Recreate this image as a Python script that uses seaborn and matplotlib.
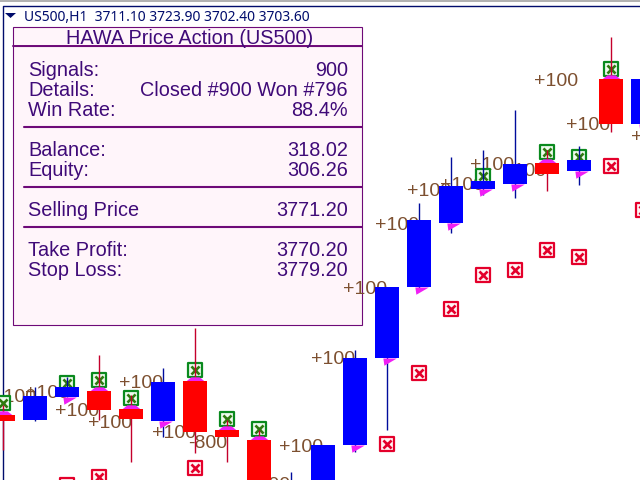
import numpy as np
import pandas as pd
import matplotlib
matplotlib.use('Agg')
import matplotlib.pyplot as plt
from matplotlib.path import Path
from matplotlib.patches import Rectangle, Polygon
import seaborn as sns

# candles, price units
bar_no = list(range(21))
is_red = [1, 0, 0, 1, 1, 0, 1, 1, 1, 0, 0, 0, 0, 0, 0, 0, 0, 1, 0, 1, 0]
body_high = [3572.5, 3582, 3586.5, 3584.5, 3575.5, 3589, 3589.5, 3565, 3560, 3539, 3557.5,
             3601, 3636.5, 3670, 3687, 3689.5, 3698, 3698.5, 3700, 3740.5, 3740.5]
body_low = [3569.5, 3570, 3581.5, 3575, 3570.5, 3569.5, 3564, 3561.5, 3520, 3520, 3515,
            3557.5, 3601, 3636.5, 3668.5, 3685.5, 3688, 3693, 3694.5, 3718, 3718]
wick_high = [3577.5, 3586.5, 3591.5, 3602.5, 3582.5, 3596, 3616, 3570, 3565, 3544, 3557.5,
             3605, 3636.5, 3678.5, 3701.5, 3705, 3725, 3705, 3707, 3761.5, 3742.5]
wick_low = [3555, 3569.5, 3581.5, 3570, 3549, 3561.5, 3553.5, 3549, 3517.5, 3517.5, 3512.5,
            3554, 3565, 3635, 3663.5, 3682.5, 3681, 3684.5, 3687.5, 3714, 3715]

# signal boxes
win_bars = [0, 2, 3, 4, 6, 7, 8, 15, 17, 18, 19]
win_price = [3578.5, 3588.5, 3590, 3581, 3595, 3570.5, 3565.5, 3692, 3704, 3701.5, 3745.5]
stop_bars = [2, 3, 6, 12, 13, 14, 15, 16, 17, 18, 19, 20]
stop_price = [3537.5, 3541.5, 3546, 3558, 3593.5, 3625.5, 3642.5, 3645, 3655, 3651.5, 3697, 3675]

# profit labels
label_text = ['+100'] * 17 + ['-800', '+100']
label_bar = [16.59, 17.59, 19.62, 14.59, 15.59, 13.66, 12.62, 11.62, 10.62, 9.62, 8.62,
             4.66, 3.62, 2.66, 1.62, 0.69, -0.34, 5.78, 7.59]
label_price = [3739, 3717, 3711.5, 3697, 3694, 3687.5, 3684.5, 3667.5, 3635.5, 3600, 3556.5,
               3563.5, 3588, 3568, 3574, 3583, 3581.5, 3558.5, 3537]

# panel text
header = 'US500,H1  3711.10 3723.90 3702.40 3703.60'
panel_title = 'HAWA Price Action (US500)'
panel_names = ['Signals:', 'Details:', 'Win Rate:', 'Balance:', 'Equity:', 'Selling Price', 'Take Profit:', 'Stop Loss:']
panel_values = ['900', 'Closed #900 Won #796', '88.4%', '318.02', '306.26', '3771.20', '3770.20', '3779.20']
panel_rows = [70.5, 90.5, 110.5, 150.5, 170.5, 210.5, 250.5, 270.5]
panel_seps = [127, 187, 227]

sns.set_theme(style='white')
plt.rcParams['font.family'] = ['Liberation Sans', 'DejaVu Sans']

df = pd.DataFrame({'bar': bar_no, 'red': is_red, 'hi': body_high, 'lo': body_low,
                   'wh': wick_high, 'wl': wick_low})
df['height'] = df['hi'] - df['lo']

fig = plt.figure(figsize=(6.4, 4.8), dpi=100, facecolor='white')

# info panel sits under the candles and labels, in screen pixels
ov = fig.add_axes([0, 0, 1, 1], facecolor='none', zorder=0)
ov.set_xlim(0, 640)
ov.set_ylim(480, 0)
ov.axis('off')

ink = '#3f0a78'
sep = '#6e0a78'
ov.plot([0, 640], [1, 1], color='#b0b0b0', lw=1.4)
ov.plot([2.5, 2.5, 640], [480, 5.5, 5.5], color='#000c6c', lw=1)
ov.add_patch(Polygon([(5, 13), (16, 13), (10.5, 18)], color='#000c6c', lw=0))
ov.text(24, 17.5, header, color='#000c6c', fontsize=10, family='Noto Sans', va='center', ha='left')

ov.add_patch(Rectangle((13, 27), 349, 19, facecolor='#fff5fa', edgecolor=sep, lw=0.8))
ov.add_patch(Rectangle((13, 46), 349, 279, facecolor='#fff5fa', edgecolor=sep, lw=0.8))
ov.plot([13, 362], [46, 46], color=sep, lw=1.4)
ov.text(190, 38, panel_title, color=ink, fontsize=14.3, ha='center', va='center')
for y in panel_seps:
    ov.plot([24, 362], [y, y], color=sep, lw=1.5)
for name, value, y in zip(panel_names, panel_values, panel_rows):
    ov.text(28, y, name, color=ink, fontsize=14.3, ha='left', va='center')
    ov.text(348, y, value, color=ink, fontsize=14.3, ha='right', va='center')

ax = fig.add_axes([0, 0, 1, 1], facecolor='none', zorder=1)
for color, wick, flag in [('#0000ff', '#000c9c', 0), ('#ff0000', '#c4002c', 1)]:
    sub = df[df['red'] == flag]
    ax.vlines(sub['bar'], sub['wl'], sub['wh'], color=wick, lw=1, zorder=2.5)
    sns.barplot(x=sub['bar'].values, y=sub['height'].values, bottom=sub['lo'].values, native_scale=True,
                color=color, saturation=1, width=0.78, gap=0, linewidth=0, ax=ax, zorder=3)

# pink arrows, slanted under blue bodies and a cap on top of red ones
slant = Path([(-4, 0), (9, 0), (-3, -7), (-4, 0)])
cap = Path([(-9, 0), (9, 0), (4, 4), (-4, 4), (-9, 0)])
blue = df[(df['red'] == 0) & (df['bar'] >= 2)]
red = df[df['red'] == 1]
sns.scatterplot(x=blue['bar'].values, y=blue['lo'].values, marker=slant, s=180, color='#f01ef5',
                linewidth=0, ax=ax, zorder=2.8)
sns.scatterplot(x=red['bar'].values, y=red['hi'].values, marker=cap, s=180, color='#f01ef5',
                linewidth=0, ax=ax, zorder=2.8)

sns.scatterplot(x=win_bars, y=win_price, marker='s', s=100, facecolor='#eefbee', edgecolor='#0a8a1e',
                linewidth=1.6, ax=ax, zorder=2)
sns.scatterplot(x=win_bars, y=win_price, marker='x', s=34, color='#2f7a10', linewidth=1.9, ax=ax, zorder=2.1)
sns.scatterplot(x=stop_bars, y=stop_price, marker='s', s=100, facecolor='#fff4f4', edgecolor='#e4002b',
                linewidth=1.6, ax=ax, zorder=2)
sns.scatterplot(x=stop_bars, y=stop_price, marker='x', s=34, color='#e4002b', linewidth=1.9, ax=ax, zorder=2.1)

for t, b, p in zip(label_text, label_bar, label_price):
    ax.text(b, p, t, color='#7d5030', fontsize=14, ha='left', va='center', zorder=1, clip_on=True)

ax.set_xlim(-3 / 32, 637 / 32)
ax.set_ylim(3540, 3780)
ax.set_xlabel('')
ax.set_ylabel('')
ax.set_xticks([])
ax.set_yticks([])
sns.despine(ax=ax, left=True, right=True, top=True, bottom=True)

fig.savefig('out.png', dpi=100)
plt.close(fig)
